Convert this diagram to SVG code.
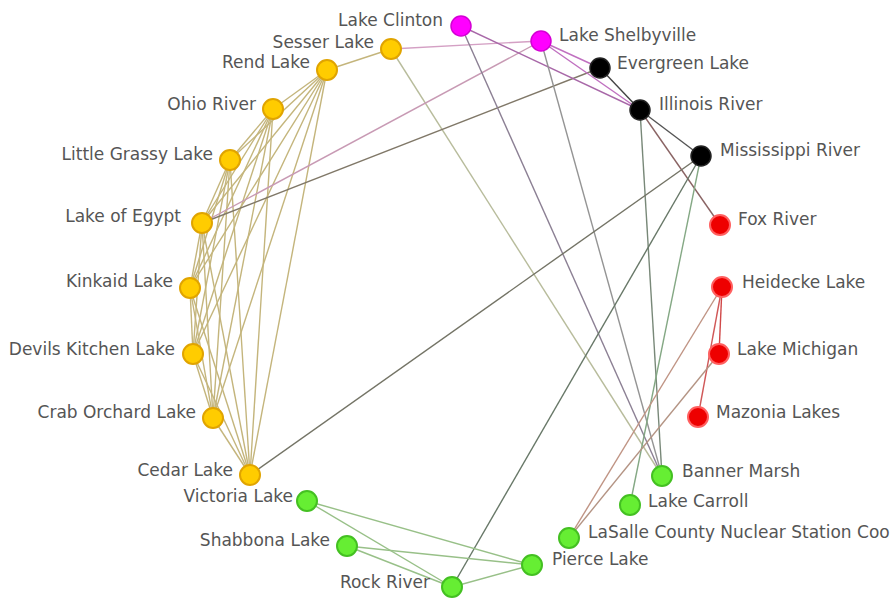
<svg xmlns="http://www.w3.org/2000/svg" width="895" height="601" viewBox="0 0 895 601">
<style>
.e{fill:none;stroke-width:1.4}
.o{stroke:#c4b57c}
.g{stroke:#98c088}
.lbl{font-family:"DejaVu Sans",sans-serif;font-size:17px;fill:#555}
.l{text-anchor:end}
.ny{fill:#ffcc00;stroke:#e0a400;stroke-width:2}
.nm{fill:#ff00ff;stroke:#d400d4;stroke-width:1.5}
.nk{fill:#000;stroke:#222;stroke-width:1.5}
.nr{fill:#ee0000;stroke:#ff6060;stroke-width:2}
.ng{fill:#66ee33;stroke:#44c022;stroke-width:2}
</style>
<rect width="895" height="601" fill="#fff"/>
<g id="connectors">
<line class="e o" x1="327" y1="70" x2="391" y2="49"/>
<line class="e o" x1="327" y1="70" x2="273" y2="109"/>
<line class="e o" x1="327" y1="70" x2="230" y2="160"/>
<line class="e o" x1="327" y1="70" x2="202" y2="223"/>
<line class="e o" x1="327" y1="70" x2="190" y2="288"/>
<line class="e o" x1="327" y1="70" x2="193" y2="354"/>
<line class="e o" x1="327" y1="70" x2="213" y2="418"/>
<line class="e o" x1="327" y1="70" x2="250" y2="475"/>
<line class="e o" x1="273" y1="109" x2="230" y2="160"/>
<line class="e o" x1="273" y1="109" x2="202" y2="223"/>
<line class="e o" x1="273" y1="109" x2="190" y2="288"/>
<line class="e o" x1="273" y1="109" x2="193" y2="354"/>
<line class="e o" x1="273" y1="109" x2="213" y2="418"/>
<line class="e o" x1="273" y1="109" x2="250" y2="475"/>
<line class="e o" x1="230" y1="160" x2="202" y2="223"/>
<line class="e o" x1="230" y1="160" x2="190" y2="288"/>
<line class="e o" x1="230" y1="160" x2="193" y2="354"/>
<line class="e o" x1="230" y1="160" x2="213" y2="418"/>
<line class="e o" x1="230" y1="160" x2="250" y2="475"/>
<line class="e o" x1="202" y1="223" x2="190" y2="288"/>
<line class="e o" x1="202" y1="223" x2="193" y2="354"/>
<line class="e o" x1="202" y1="223" x2="213" y2="418"/>
<line class="e o" x1="202" y1="223" x2="250" y2="475"/>
<line class="e o" x1="190" y1="288" x2="193" y2="354"/>
<line class="e o" x1="190" y1="288" x2="213" y2="418"/>
<line class="e o" x1="190" y1="288" x2="250" y2="475"/>
<line class="e o" x1="193" y1="354" x2="213" y2="418"/>
<line class="e o" x1="193" y1="354" x2="250" y2="475"/>
<line class="e o" x1="213" y1="418" x2="250" y2="475"/>
<line class="e" stroke="#d4a0c4" x1="391" y1="49" x2="541" y2="41"/>
<line class="e" stroke="#b8bc9c" x1="391" y1="49" x2="662" y2="476"/>
<line class="e" stroke="#c89ab4" x1="202" y1="223" x2="541" y2="41"/>
<line class="e" stroke="#807868" x1="202" y1="223" x2="600" y2="68"/>
<line class="e" stroke="#a868a8" x1="461" y1="26" x2="640" y2="110"/>
<line class="e" stroke="#8c8094" x1="461" y1="26" x2="662" y2="476"/>
<line class="e" stroke="#c070c0" x1="541" y1="41" x2="600" y2="68"/>
<line class="e" stroke="#c070c0" x1="541" y1="41" x2="640" y2="110"/>
<line class="e" stroke="#949494" x1="541" y1="41" x2="662" y2="476"/>
<line class="e" stroke="#444" x1="600" y1="68" x2="640" y2="110"/>
<line class="e" stroke="#555" x1="640" y1="110" x2="701" y2="156"/>
<line class="e" stroke="#788878" x1="640" y1="110" x2="662" y2="476"/>
<line class="e" stroke="#8a6464" x1="640" y1="110" x2="720" y2="225"/>
<line class="e" stroke="#747466" x1="701" y1="156" x2="250" y2="475"/>
<line class="e" stroke="#687868" x1="701" y1="156" x2="452" y2="587"/>
<line class="e" stroke="#84a884" x1="701" y1="156" x2="630" y2="505"/>
<line class="e" stroke="#d04848" x1="722" y1="287" x2="719" y2="354"/>
<line class="e" stroke="#d05858" x1="722" y1="287" x2="698" y2="417"/>
<line class="e" stroke="#c09484" x1="722" y1="287" x2="569" y2="538"/>
<line class="e" stroke="#b49484" x1="719" y1="354" x2="569" y2="538"/>
<line class="e g" x1="307" y1="501" x2="532" y2="565"/>
<line class="e g" x1="307" y1="501" x2="452" y2="587"/>
<line class="e g" x1="347" y1="546" x2="532" y2="565"/>
<line class="e g" x1="347" y1="546" x2="452" y2="587"/>
<line class="e g" x1="452" y1="587" x2="532" y2="565"/>
</g>
<g id="lake-clinton"><circle class="nm" cx="461" cy="26" r="10"/><text class="lbl l" x="443" y="26">Lake Clinton</text></g>
<g id="lake-shelbyville"><circle class="nm" cx="541" cy="41" r="10"/><text class="lbl" x="559" y="41">Lake Shelbyville</text></g>
<g id="sesser-lake"><circle class="ny" cx="391" cy="49" r="10"/><text class="lbl l" x="374" y="48">Sesser Lake</text></g>
<g id="rend-lake"><circle class="ny" cx="327" cy="70" r="10"/><text class="lbl l" x="310" y="68">Rend Lake</text></g>
<g id="ohio-river"><circle class="ny" cx="273" cy="109" r="10"/><text class="lbl l" x="256" y="110">Ohio River</text></g>
<g id="little-grassy-lake"><circle class="ny" cx="230" cy="160" r="10"/><text class="lbl l" x="213" y="160">Little Grassy Lake</text></g>
<g id="lake-of-egypt"><circle class="ny" cx="202" cy="223" r="10"/><text class="lbl l" x="181" y="222">Lake of Egypt</text></g>
<g id="kinkaid-lake"><circle class="ny" cx="190" cy="288" r="10"/><text class="lbl l" x="173" y="287">Kinkaid Lake</text></g>
<g id="devils-kitchen-lake"><circle class="ny" cx="193" cy="354" r="10"/><text class="lbl l" x="175" y="355">Devils Kitchen Lake</text></g>
<g id="crab-orchard-lake"><circle class="ny" cx="213" cy="418" r="10"/><text class="lbl l" x="196" y="418">Crab Orchard Lake</text></g>
<g id="cedar-lake"><circle class="ny" cx="250" cy="475" r="10"/><text class="lbl l" x="233" y="476">Cedar Lake</text></g>
<g id="evergreen-lake"><circle class="nk" cx="600" cy="68" r="10"/><text class="lbl" x="617" y="69">Evergreen Lake</text></g>
<g id="illinois-river"><circle class="nk" cx="640" cy="110" r="10"/><text class="lbl" x="659" y="110">Illinois River</text></g>
<g id="mississippi-river"><circle class="nk" cx="701" cy="156" r="10"/><text class="lbl" x="720" y="156">Mississippi River</text></g>
<g id="fox-river"><circle class="nr" cx="720" cy="225" r="10"/><text class="lbl" x="738" y="225">Fox River</text></g>
<g id="heidecke-lake"><circle class="nr" cx="722" cy="287" r="10"/><text class="lbl" x="742" y="288">Heidecke Lake</text></g>
<g id="lake-michigan"><circle class="nr" cx="719" cy="354" r="10"/><text class="lbl" x="737" y="355">Lake Michigan</text></g>
<g id="mazonia-lakes"><circle class="nr" cx="698" cy="417" r="10"/><text class="lbl" x="716" y="418">Mazonia Lakes</text></g>
<g id="banner-marsh"><circle class="ng" cx="662" cy="476" r="10"/><text class="lbl" x="682" y="477">Banner Marsh</text></g>
<g id="lake-carroll"><circle class="ng" cx="630" cy="505" r="10"/><text class="lbl" x="648" y="507">Lake Carroll</text></g>
<g id="lasalle"><circle class="ng" cx="569" cy="538" r="10"/><text class="lbl" x="588" y="538">LaSalle County Nuclear Station Coo</text></g>
<g id="pierce-lake"><circle class="ng" cx="532" cy="565" r="10"/><text class="lbl" x="552" y="565">Pierce Lake</text></g>
<g id="rock-river"><circle class="ng" cx="452" cy="587" r="10"/><text class="lbl l" x="430" y="588">Rock River</text></g>
<g id="shabbona-lake"><circle class="ng" cx="347" cy="546" r="10"/><text class="lbl l" x="330" y="546">Shabbona Lake</text></g>
<g id="victoria-lake"><circle class="ng" cx="307" cy="501" r="10"/><text class="lbl l" x="293" y="502">Victoria Lake</text></g>
</svg>
